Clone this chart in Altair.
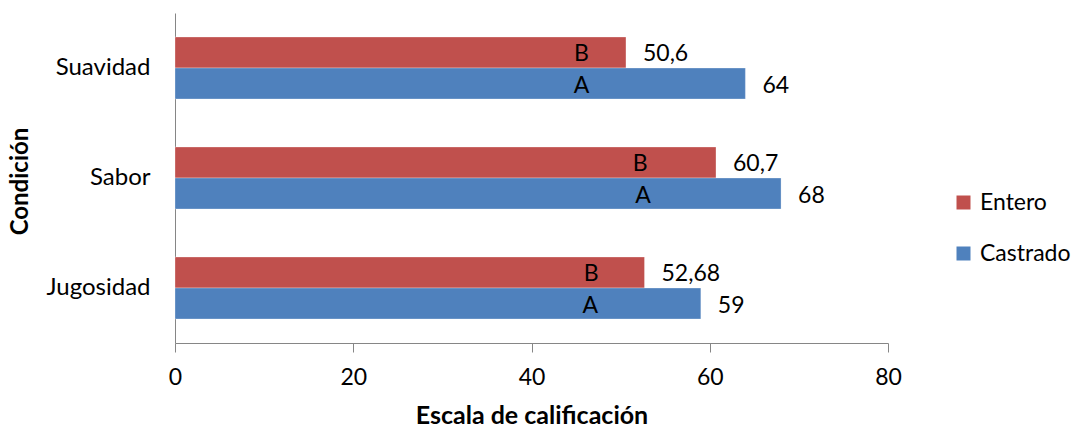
import altair as alt
import pandas as pd

categories = ["Suavidad", "Sabor", "Jugosidad"]
series = ["Entero", "Castrado"]
entero = [50.6, 60.7, 52.68]
castrado = [64, 68, 59]
entero_lbl = ["50,6", "60,7", "52,68"]
castrado_lbl = ["64", "68", "59"]
entero_letter = ["B", "B", "B"]
castrado_letter = ["A", "A", "A"]
entero_letter_x = [45.6, 52.2, 46.7]
castrado_letter_x = [45.6, 52.5, 46.6]

rows = []
for i, c in enumerate(categories):
    rows.append(dict(cat=c, serie="Entero", val=entero[i], lbl=entero_lbl[i],
                     letter=entero_letter[i], lx=entero_letter_x[i]))
    rows.append(dict(cat=c, serie="Castrado", val=castrado[i], lbl=castrado_lbl[i],
                     letter=castrado_letter[i], lx=castrado_letter_x[i]))
df = pd.DataFrame(rows)

FONT = "Lato"
FS = 23

y_enc = alt.Y("cat:N", sort=categories,
              scale=alt.Scale(paddingInner=0.436, paddingOuter=0.218),
              axis=alt.Axis(title="Condición", ticks=False, labelPadding=25,
                            labelFontSize=24, titleFontSize=24, titleFontWeight="bold",
                            titleX=-155, titleY=168, titleAngle=270, titleBaseline="middle",
                            titleAlign="center",
                            domainColor="#868686", labelColor="black", titleColor="black"))
yoff = alt.YOffset("serie:N", sort=series, scale=alt.Scale(paddingInner=0, paddingOuter=0))

bars = alt.Chart(df).mark_bar(stroke="white", strokeOpacity=0.3, strokeWidth=1).encode(
    x=alt.X("val:Q", scale=alt.Scale(domain=[0, 80]),
            axis=alt.Axis(title="Escala de calificación", values=[0, 20, 40, 60, 80],
                          grid=False, tickSize=9, labelPadding=14, labelFlush=False,
                          labelFontSize=FS, titleFontSize=25, titleFontWeight="bold",
                          titlePadding=14, domainColor="#868686", tickColor="#868686",
                          labelColor="black", titleColor="black")),
    y=y_enc,
    yOffset=yoff,
    color=alt.Color("serie:N", sort=series,
                    scale=alt.Scale(domain=series, range=["#C0504D", "#4F81BD"]),
                    legend=alt.Legend(title=None, orient="none", legendX=777, legendY=178,
                                      symbolType="square", symbolSize=196, symbolStrokeWidth=0,
                                      labelFontSize=FS, labelColor="black", rowPadding=27,
                                      labelOffset=5, padding=0)),
)

vals = alt.Chart(df).mark_text(align="left", baseline="middle", dx=17, dy=2,
                               fontSize=FS, color="black").encode(
    x="val:Q", y=alt.Y("cat:N", sort=categories), yOffset=yoff, text="lbl:N")

letters = alt.Chart(df).mark_text(align="center", baseline="middle", dy=2,
                                  fontSize=FS, color="black").encode(
    x="lx:Q", y=alt.Y("cat:N", sort=categories), yOffset=yoff, text="letter:N")

chart = alt.layer(bars, vals, letters).properties(
    width=713, height=330,
    autosize=alt.AutoSizeParams(type="none"),
    padding={"left": 175, "top": 13, "right": 188, "bottom": 84},
).configure(font=FONT).configure_view(stroke=None)

chart.save("out.html", embed_options={"renderer": "svg", "actions": False})
